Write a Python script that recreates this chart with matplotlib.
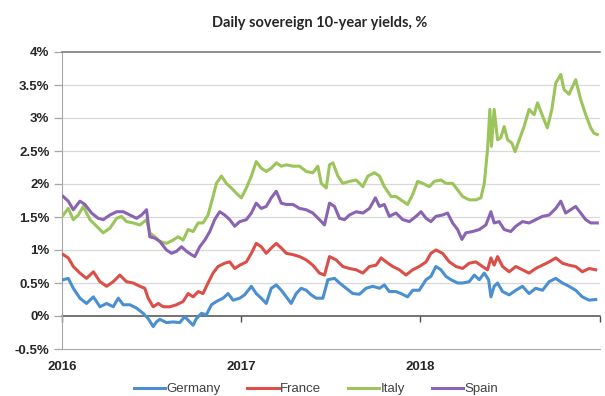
import matplotlib
matplotlib.use("Agg")
import matplotlib.pyplot as plt

# Daily 10-year government bond yields (%), sampled along the period.
# Time axis is in decimal years.
germany_t = [2016.007, 2016.035, 2016.063, 2016.100, 2016.137, 2016.175, 2016.212, 2016.249, 2016.286, 2016.314,
             2016.342, 2016.379, 2016.416, 2016.453, 2016.481, 2016.509, 2016.527, 2016.546, 2016.583, 2016.620,
             2016.657, 2016.685, 2016.713, 2016.732, 2016.750, 2016.778, 2016.806, 2016.834, 2016.862, 2016.899,
             2016.927, 2016.955, 2016.992, 2017.019, 2017.057, 2017.084, 2017.112, 2017.140, 2017.168, 2017.196,
             2017.224, 2017.252, 2017.279, 2017.307, 2017.335, 2017.363, 2017.391, 2017.419, 2017.456, 2017.484,
             2017.521, 2017.549, 2017.586, 2017.623, 2017.660, 2017.697, 2017.734, 2017.772, 2017.799, 2017.827,
             2017.864, 2017.892, 2017.929, 2017.957, 2017.994, 2018.032, 2018.059, 2018.087, 2018.115, 2018.143,
             2018.171, 2018.208, 2018.236, 2018.273, 2018.301, 2018.329, 2018.357, 2018.381, 2018.394, 2018.412,
             2018.431, 2018.459, 2018.496, 2018.533, 2018.570, 2018.607, 2018.644, 2018.682, 2018.719, 2018.756,
             2018.793, 2018.830, 2018.867, 2018.904, 2018.942, 2018.979]
germany_v = [0.55, 0.57, 0.42, 0.27, 0.19, 0.29, 0.14, 0.19, 0.14, 0.27,
             0.17, 0.17, 0.12, 0.04, -0.04, -0.16, -0.09, -0.05, -0.10, -0.09,
             -0.10, -0.01, -0.09, -0.14, -0.04, 0.04, 0.02, 0.17, 0.22, 0.27,
             0.34, 0.24, 0.27, 0.32, 0.45, 0.34, 0.27, 0.19, 0.42, 0.47,
             0.39, 0.29, 0.19, 0.34, 0.42, 0.39, 0.32, 0.27, 0.27, 0.55,
             0.57, 0.50, 0.42, 0.34, 0.33, 0.42, 0.45, 0.42, 0.47, 0.37,
             0.37, 0.34, 0.29, 0.39, 0.39, 0.55, 0.60, 0.75, 0.70, 0.60,
             0.55, 0.50, 0.50, 0.52, 0.62, 0.55, 0.65, 0.55, 0.29, 0.45,
             0.50, 0.37, 0.32, 0.39, 0.45, 0.34, 0.42, 0.39, 0.52, 0.57,
             0.50, 0.45, 0.39, 0.29, 0.24, 0.25]

france_t = [2016.007, 2016.035, 2016.063, 2016.100, 2016.137, 2016.175, 2016.212, 2016.249, 2016.286, 2016.323,
            2016.360, 2016.397, 2016.435, 2016.462, 2016.481, 2016.509, 2016.537, 2016.565, 2016.602, 2016.639,
            2016.676, 2016.704, 2016.732, 2016.760, 2016.787, 2016.815, 2016.843, 2016.871, 2016.908, 2016.936,
            2016.964, 2016.992, 2017.029, 2017.057, 2017.084, 2017.112, 2017.140, 2017.168, 2017.196, 2017.224,
            2017.252, 2017.289, 2017.326, 2017.363, 2017.400, 2017.437, 2017.465, 2017.493,
            2017.530, 2017.567, 2017.604, 2017.642, 2017.679, 2017.716, 2017.753, 2017.781, 2017.809, 2017.846,
            2017.883, 2017.920, 2017.957, 2017.994, 2018.032, 2018.059, 2018.087, 2018.124, 2018.162, 2018.199,
            2018.236, 2018.273, 2018.310, 2018.347, 2018.375, 2018.394, 2018.412, 2018.431, 2018.459, 2018.496,
            2018.533, 2018.570, 2018.607, 2018.644, 2018.682, 2018.719, 2018.756, 2018.793, 2018.830, 2018.867,
            2018.904, 2018.942, 2018.979]
france_v = [0.93, 0.88, 0.75, 0.65, 0.57, 0.67, 0.52, 0.45, 0.52, 0.62,
            0.52, 0.50, 0.45, 0.42, 0.27, 0.14, 0.19, 0.14, 0.14, 0.17,
            0.22, 0.34, 0.29, 0.37, 0.34, 0.50, 0.65, 0.75, 0.80, 0.82,
            0.72, 0.77, 0.82, 0.95, 1.10, 1.05, 0.95, 1.03, 1.10, 1.03,
            0.95, 0.93, 0.90, 0.85, 0.77, 0.65, 0.62, 0.90,
            0.85, 0.75, 0.72, 0.70, 0.65, 0.75, 0.77, 0.88, 0.82, 0.75,
            0.70, 0.62, 0.70, 0.75, 0.82, 0.95, 1.00, 0.95, 0.82, 0.75,
            0.72, 0.80, 0.82, 0.75, 0.70, 0.88, 0.77, 0.90, 0.75, 0.67,
            0.75, 0.70, 0.65, 0.72, 0.77, 0.82, 0.88, 0.80, 0.77, 0.75,
            0.67, 0.72, 0.70]

italy_t = [2016.007, 2016.035, 2016.063, 2016.091, 2016.119, 2016.156, 2016.193, 2016.230, 2016.267, 2016.305,
           2016.332, 2016.360, 2016.397, 2016.435, 2016.472, 2016.490, 2016.518, 2016.546, 2016.583, 2016.620,
           2016.648, 2016.676, 2016.704, 2016.732, 2016.760, 2016.787, 2016.815, 2016.843, 2016.862, 2016.890,
           2016.917, 2016.945, 2016.973, 2017.001, 2017.029, 2017.057, 2017.084, 2017.112, 2017.140, 2017.168,
           2017.196, 2017.224, 2017.252, 2017.289, 2017.326, 2017.363, 2017.400, 2017.428, 2017.447, 2017.475,
           2017.493, 2017.512, 2017.540, 2017.567, 2017.604, 2017.642, 2017.679, 2017.707, 2017.744, 2017.772,
           2017.799, 2017.837, 2017.864, 2017.902, 2017.929, 2017.957, 2017.985, 2018.013, 2018.050, 2018.078,
           2018.115, 2018.143, 2018.180, 2018.208, 2018.236, 2018.273, 2018.310, 2018.338, 2018.357, 2018.375,
           2018.388, 2018.397, 2018.412, 2018.431, 2018.449, 2018.468, 2018.487, 2018.511, 2018.529, 2018.552,
           2018.579, 2018.607, 2018.635, 2018.654, 2018.682, 2018.709, 2018.734, 2018.756, 2018.784, 2018.802,
           2018.830, 2018.867, 2018.895, 2018.923, 2018.951, 2018.969, 2018.988]
italy_v = [1.53, 1.63, 1.46, 1.53, 1.66, 1.46, 1.36, 1.26, 1.33, 1.48,
           1.51, 1.43, 1.41, 1.38, 1.46, 1.26, 1.20, 1.13, 1.10, 1.15,
           1.20, 1.15, 1.31, 1.28, 1.41, 1.41, 1.53, 1.81, 2.01, 2.12,
           2.01, 1.94, 1.86, 1.79, 1.94, 2.12, 2.34, 2.24, 2.19, 2.24,
           2.32, 2.27, 2.29, 2.27, 2.27, 2.19, 2.17, 2.27, 2.01, 1.94,
           2.29, 2.32, 2.12, 2.01, 2.04, 2.06, 1.96, 2.12, 2.17, 2.12,
           1.96, 1.81, 1.81, 1.74, 1.69, 1.84, 2.04, 2.01, 1.96, 2.04,
           2.06, 2.01, 2.01, 1.91, 1.81, 1.76, 1.76, 1.79, 2.01, 2.52,
           3.13, 2.57, 3.13, 2.67, 2.70, 2.87, 2.67, 2.62, 2.49, 2.67,
           2.87, 3.13, 3.05, 3.23, 3.03, 2.85, 3.13, 3.53, 3.66, 3.43,
           3.36, 3.58, 3.28, 3.05, 2.85, 2.77, 2.75]

spain_t = [2016.007, 2016.035, 2016.063, 2016.100, 2016.128, 2016.165, 2016.202, 2016.230, 2016.267, 2016.305,
           2016.342, 2016.379, 2016.416, 2016.444, 2016.472, 2016.490, 2016.518, 2016.546, 2016.583, 2016.611,
           2016.639, 2016.667, 2016.695, 2016.722, 2016.741, 2016.769, 2016.797, 2016.825, 2016.852, 2016.880,
           2016.908, 2016.936, 2016.964, 2016.992, 2017.029, 2017.057, 2017.084, 2017.112, 2017.140, 2017.168,
           2017.196, 2017.224, 2017.252, 2017.289, 2017.326, 2017.363, 2017.400, 2017.437, 2017.465,
           2017.493, 2017.521, 2017.549, 2017.577, 2017.604, 2017.642, 2017.679, 2017.716, 2017.749, 2017.772,
           2017.799, 2017.827, 2017.864, 2017.902, 2017.939, 2017.976, 2018.004, 2018.032, 2018.059, 2018.087,
           2018.124, 2018.152, 2018.180, 2018.208, 2018.232, 2018.254, 2018.292, 2018.329, 2018.366, 2018.394,
           2018.412, 2018.440, 2018.468, 2018.505, 2018.533, 2018.570, 2018.607, 2018.644, 2018.682, 2018.719,
           2018.756, 2018.784, 2018.811, 2018.839, 2018.867, 2018.895, 2018.923, 2018.951, 2018.988]
spain_v = [1.81, 1.74, 1.61, 1.74, 1.69, 1.56, 1.48, 1.46, 1.53, 1.58,
           1.58, 1.53, 1.48, 1.53, 1.61, 1.20, 1.18, 1.13, 1.00, 0.95,
           0.98, 1.05, 0.98, 0.93, 0.90, 1.05, 1.15, 1.28, 1.46, 1.58,
           1.53, 1.46, 1.36, 1.43, 1.46, 1.56, 1.71, 1.63, 1.66, 1.79,
           1.89, 1.71, 1.69, 1.69, 1.63, 1.61, 1.56, 1.46, 1.38,
           1.71, 1.66, 1.48, 1.46, 1.53, 1.58, 1.56, 1.63, 1.79, 1.66,
           1.69, 1.51, 1.56, 1.46, 1.43, 1.51, 1.58, 1.48, 1.43, 1.51,
           1.53, 1.56, 1.41, 1.31, 1.16, 1.26, 1.28, 1.31, 1.38, 1.58,
           1.41, 1.43, 1.31, 1.28, 1.36, 1.43, 1.41, 1.46, 1.51, 1.53,
           1.63, 1.74, 1.56, 1.61, 1.66, 1.56, 1.46, 1.41, 1.41]

series_names = ["Germany", "France", "Italy", "Spain"]
series_colors = ["#4A8FD0", "#DB4F48", "#9BC45A", "#8A63B2"]

year_ticks = [2016, 2017, 2018, 2019]
year_labels = ["2016", "2017", "2018", ""]
y_ticks = [-0.5, 0, 0.5, 1, 1.5, 2, 2.5, 3, 3.5, 4]
y_labels = ["-0.5%", "0%", "0.5%", "1%", "1.5%", "2%", "2.5%", "3%", "3.5%", "4%"]

title = "Daily sovereign 10-year yields, %"

fig = plt.figure(figsize=(6.05, 3.96), dpi=100)
ax = fig.add_axes([62 / 605, 1 - 349 / 396, 537.5 / 605, 297 / 396])

ymin, ymax = -0.5, 4.0
ax.set_xlim(year_ticks[0], year_ticks[-1])
ax.set_ylim(ymin, ymax)

# light horizontal gridlines
for yv in y_ticks:
    if yv in (ymin, ymax, 0):
        continue
    ax.axhline(yv, color="#d9d9d9", lw=0.9, zorder=0)

data = [(germany_t, germany_v), (france_t, france_v), (italy_t, italy_v), (spain_t, spain_v)]
for (t, v), name, col in zip(data, series_names, series_colors):
    ax.plot(t, v, color=col, lw=2.2, label=name, solid_joinstyle="round", zorder=3)

# frame
ax.spines["right"].set_visible(False)
ax.spines["top"].set_color("#7f7f7f")
ax.spines["top"].set_linewidth(1.2)
ax.spines["left"].set_color("#a6a6a6")
ax.spines["bottom"].set_color("#a6a6a6")

ax.set_yticks(y_ticks)
ax.set_yticklabels(y_labels)
ax.tick_params(axis="y", direction="out", length=6, width=0.9, color="#a6a6a6", pad=3,
               labelsize=9.5, labelcolor="#262626")
for lab in ax.get_yticklabels():
    lab.set_fontweight("bold")
    lab.set_family("Liberation Sans")

# year labels under the frame
ax.set_xticks(year_ticks)
ax.set_xticklabels(year_labels)
ax.tick_params(axis="x", length=0, pad=9, labelsize=9.5, labelcolor="#262626")
for lab in ax.get_xticklabels():
    lab.set_fontweight("bold")
    lab.set_family("Liberation Sans")

# the zero line carries the year tick marks
zero_axis = ax.secondary_xaxis((0 - ymin) / (ymax - ymin))
zero_axis.set_xticks(year_ticks)
zero_axis.set_xticklabels([])
zero_axis.spines["bottom"].set_color("#4d4d4d")
zero_axis.spines["bottom"].set_linewidth(1.1)
zero_axis.tick_params(axis="x", direction="out", length=4, width=1.0, color="#4d4d4d")

fig.text(320 / 605, 1 - 23 / 396, title, ha="center", va="center",
         fontsize=10.5, fontweight="bold", family="Lato", color="#262626")

fig.legend(loc="center", bbox_to_anchor=(316 / 605, 1 - 389 / 396), ncol=4, frameon=False,
           prop={"family": "Liberation Sans", "size": 9.5}, handlelength=2.4, handletextpad=0.1,
           columnspacing=2.0, borderaxespad=0, borderpad=0, labelcolor="#404040")

fig.savefig("out.png", dpi=100)
